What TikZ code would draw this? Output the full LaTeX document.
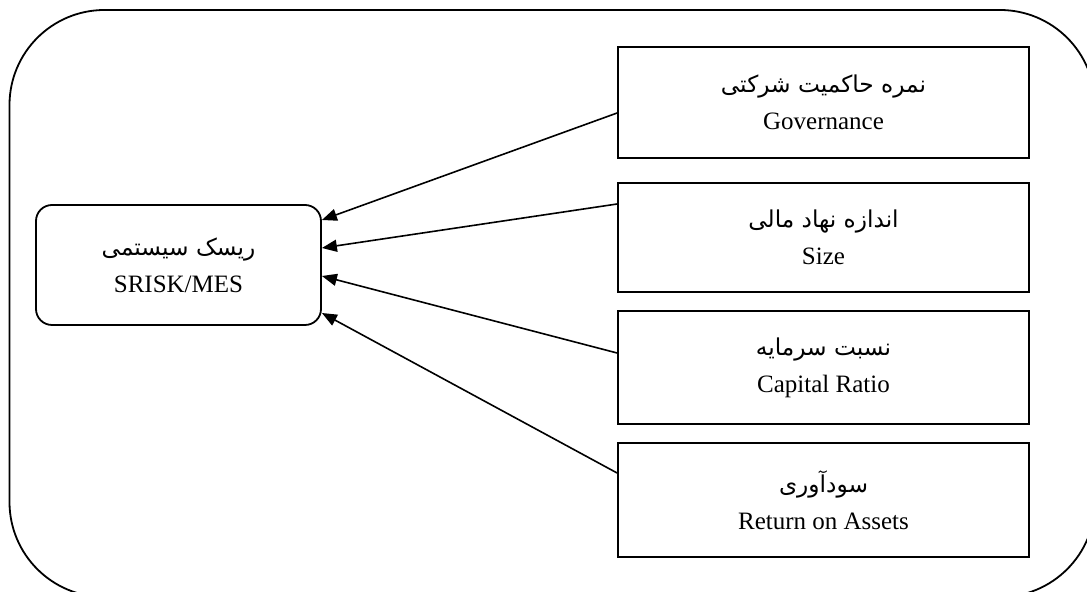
\documentclass[tikz,border=0pt]{standalone}
\usepackage{fontspec}
\setmainfont{Liberation Serif}
\newfontfamily\arabicfont[Script=Arabic,Scale=0.93]{DejaVu Sans}
\TeXXeTstate=1
\usetikzlibrary{arrows.meta}
\tikzset{
  box/.style={draw, line width=0.9pt, align=center, minimum width=205.5pt,
    font=\fontsize{12.5}{18.5}\selectfont, inner sep=0pt},
  srcbox/.style={draw, line width=0.9pt, align=center, rounded corners=8pt,
    minimum width=142.5pt, minimum height=60pt,
    font=\fontsize{12.5}{18.5}\selectfont, inner sep=0pt},
  conn/.style={line width=0.8pt, -{Triangle[length=7.5pt,width=6pt]}}
}
\begin{document}
\begin{tikzpicture}[x=0.5pt,y=-0.5pt]
\useasboundingbox (0,0) rectangle (1087,592);
\begin{scope}
\clip (0,0) rectangle (1087,592);
\draw[line width=0.9pt, rounded corners=47.5pt] (9.5,10) rectangle (1095,597);
\end{scope}
\node[srcbox] (src) at (178.5,265) {{\arabicfont\beginR ریسک سیستمی\endR}\\SRISK/MES};
\node[box, minimum height=55.5pt] (b1) at (823.5,102.5) {{\arabicfont\beginR نمره حاکمیت شرکتی\endR}\\Governance};
\node[box, minimum height=54.5pt] (b2) at (823.5,237.5) {{\arabicfont\beginR اندازه نهاد مالی\endR}\\Size};
\node[box, minimum height=56.5pt] (b3) at (823.5,367.5) {{\arabicfont\beginR نسبت سرمایه\endR}\\Capital Ratio};
\node[box, minimum height=57pt] (b4) at (823.5,500) {{\arabicfont\beginR سودآوری\endR}\\Return on Assets};
\draw[conn] ([yshift=-5.25pt]b1.west) -- ([yshift=22.5pt]src.east);
\draw[conn] ([yshift=16.75pt]b2.west) -- ([yshift=8.5pt]src.east);
\draw[conn] ([yshift=7.25pt]b3.west) -- ([yshift=-5.5pt]src.east);
\draw[conn] ([yshift=13.5pt]b4.west) -- ([yshift=-24pt]src.east);
\end{tikzpicture}
\end{document}
